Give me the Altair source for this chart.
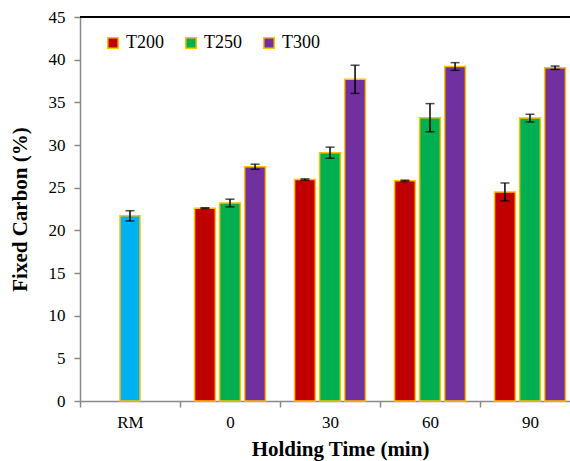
import altair as alt
import pandas as pd

categories = ["RM", "0", "30", "60", "90"]
times = ["0", "30", "60", "90"]
series = ["T200", "T250", "T300"]
t200 = [22.6, 25.95, 25.8, 24.5]
t200_err = [0.05, 0.08, 0.08, 1.05]
t250 = [23.2, 29.1, 33.2, 33.15]
t250_err = [0.45, 0.65, 1.65, 0.45]
t300 = [27.45, 37.7, 39.2, 39.05]
t300_err = [0.3, 1.65, 0.45, 0.2]
rm_value = [21.7]
rm_err = [0.6]
colors = ["#C00000", "#00B050", "#7030A0"]
rm_color = "#00B0F0"
edge = "#FFC000"
grey = "#898989"

rows = []
for s, vals, errs in [("T200", t200, t200_err), ("T250", t250, t250_err), ("T300", t300, t300_err)]:
    for t, v, e in zip(times, vals, errs):
        rows.append({"time": t, "series": s, "value": v, "lo": v - e, "hi": v + e})
df = pd.DataFrame(rows)
rm_df = pd.DataFrame({"time": ["RM"], "value": rm_value,
                      "lo": [rm_value[0] - rm_err[0]], "hi": [rm_value[0] + rm_err[0]]})

FONT = "Liberation Serif"
xscale = alt.Scale(domain=categories, range=[0, 500], paddingInner=0, paddingOuter=0)
yscale = alt.Scale(domain=[0, 45], nice=False)
xoff = alt.Scale(domain=series, paddingInner=0.17, paddingOuter=0.58)

xaxis = alt.Axis(title="Holding Time (min)", labelAngle=0, tickBand="extent",
                 labelPadding=7, titlePadding=8, titleX=260)
yaxis = alt.Axis(title="Fixed Carbon (%)", values=list(range(0, 46, 5)),
                 labelPadding=9, titlePadding=18)

X = alt.X("time:N", scale=xscale, axis=xaxis, sort=categories)
Y = alt.Y("value:Q", scale=yscale, axis=yaxis)
XO = alt.XOffset("series:N", scale=xoff)

bars = alt.Chart(df).mark_bar(stroke=edge, strokeWidth=1.5).encode(
    x=X, xOffset=XO, y=Y,
    fill=alt.Fill("series:N", scale=alt.Scale(domain=series, range=colors),
                  legend=alt.Legend(title=None, orient="none", direction="horizontal",
                                    legendX=24, legendY=17, symbolType="square", symbolSize=110,
                                    symbolStrokeColor=edge, symbolStrokeWidth=1.5,
                                    columnPadding=18, labelOffset=4)),
)
rules = alt.Chart(df).mark_rule(color="black", strokeWidth=1.5).encode(
    x=X, xOffset=XO, y=alt.Y("lo:Q", scale=yscale, axis=yaxis), y2="hi:Q")
cap_lo = alt.Chart(df).mark_tick(color="black", size=9, thickness=1.5).encode(
    x=X, xOffset=XO, y=alt.Y("lo:Q", scale=yscale, axis=yaxis))
cap_hi = alt.Chart(df).mark_tick(color="black", size=9, thickness=1.5).encode(
    x=X, xOffset=XO, y=alt.Y("hi:Q", scale=yscale, axis=yaxis))
rm_bar = alt.Chart(rm_df).mark_bar(fill=rm_color, stroke=edge, strokeWidth=1.5, size=20).encode(
    x=X, y=Y)
rm_rule = alt.Chart(rm_df).mark_rule(color="black", strokeWidth=1.5).encode(
    x=X, y=alt.Y("lo:Q", scale=yscale, axis=yaxis), y2="hi:Q")
rm_lo = alt.Chart(rm_df).mark_tick(color="black", size=9, thickness=1.5).encode(
    x=X, y=alt.Y("lo:Q", scale=yscale, axis=yaxis))
rm_hi = alt.Chart(rm_df).mark_tick(color="black", size=9, thickness=1.5).encode(
    x=X, y=alt.Y("hi:Q", scale=yscale, axis=yaxis))
top_line = alt.Chart(rm_df).mark_rule(color="black", strokeWidth=2).encode(
    x=alt.value(0), x2=alt.value(500), y=alt.value(0))

chart = alt.layer(rm_bar, bars, rules, cap_lo, cap_hi, rm_rule, rm_lo, rm_hi, top_line).properties(
    width=490, height=384,
    autosize=alt.AutoSizeParams(type="none"),
    padding={"left": 80, "top": 17, "right": 0, "bottom": 60},
    background="white",
).configure_view(stroke=None).configure_axis(
    grid=False, domainColor=grey, tickColor=grey, tickSize=6, domainWidth=1.5, tickWidth=1.5,
    labelFont=FONT, labelFontSize=17, labelColor="black",
    titleFont=FONT, titleFontSize=21, titleFontWeight="bold", titleColor="black",
).configure_legend(
    labelFont=FONT, labelFontSize=18, labelColor="black",
)

chart.save("out.html", embed_options={"renderer": "svg", "actions": False})
